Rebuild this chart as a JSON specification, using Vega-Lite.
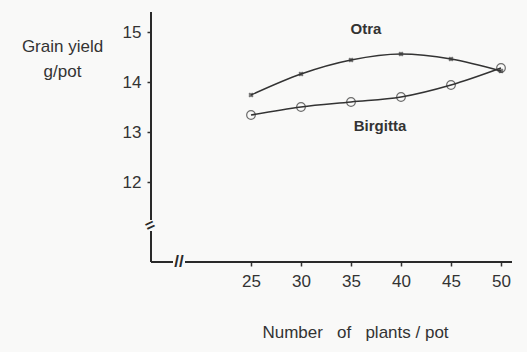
{
  "$schema": "https://vega.github.io/schema/vega-lite/v6.json",
  "autosize": "none",
  "width": 360,
  "height": 250,
  "padding": {"left": 151, "top": 12, "right": 16, "bottom": 90},
  "background": "#f9f9f8",
  "config": {
    "view": {"stroke": null},
    "font": "Liberation Sans",
    "axis": {"grid": false, "domain": false, "labelColor": "#333", "tickColor": "#333", "titleColor": "#333", "labelFont": "Liberation Sans", "titleFont": "Liberation Sans", "titleFontWeight": "normal"}
  },
  "datasets": {
    "series": [
      {"variety": "Otra", "plants": 25, "yield": 13.74},
      {"variety": "Otra", "plants": 30, "yield": 14.16},
      {"variety": "Otra", "plants": 35, "yield": 14.44},
      {"variety": "Otra", "plants": 40, "yield": 14.56},
      {"variety": "Otra", "plants": 45, "yield": 14.46},
      {"variety": "Otra", "plants": 50, "yield": 14.22},
      {"variety": "Birgitta", "plants": 25, "yield": 13.34},
      {"variety": "Birgitta", "plants": 30, "yield": 13.5},
      {"variety": "Birgitta", "plants": 35, "yield": 13.6},
      {"variety": "Birgitta", "plants": 40, "yield": 13.7},
      {"variety": "Birgitta", "plants": 45, "yield": 13.94},
      {"variety": "Birgitta", "plants": 50, "yield": 14.28}
    ],
    "axes": [
      {"x": 15, "x2": 17.2, "y": 10.4, "y2": 10.4},
      {"x": 18.4, "x2": 51.1, "y": 10.4, "y2": 10.4},
      {"x": 15, "x2": 15, "y": 10.4, "y2": 11.02},
      {"x": 15, "x2": 15, "y": 11.24, "y2": 15.4}
    ],
    "labels": [
      {"label": "Otra", "x": 36.5, "y": 15.06},
      {"label": "Birgitta", "x": 37.9, "y": 13.12}
    ],
    "xbreak": [{"x": 17.8, "y": 10.4, "t": "//"}],
    "ybreak": [{"x": 14.9, "y": 11.13, "t": "="}]
  },
  "layer": [
    {
      "data": {"name": "axes"},
      "mark": {"type": "rule", "color": "#2a2a2a", "strokeWidth": 2},
      "encoding": {
        "x": {"field": "x", "type": "quantitative", "scale": {"domain": [15, 51], "nice": false, "zero": false},
          "axis": {"values": [25, 30, 35, 40, 45, 50], "labelFontSize": 17, "labelPadding": 7, "tickSize": 4, "tickWidth": 1.5,
            "title": "Number\u00a0\u00a0\u00a0of\u00a0\u00a0\u00a0plants / pot", "titleFontSize": 17, "titleX": 204, "titleY": 62, "titleAnchor": "middle", "titleBaseline": "top"}},
        "x2": {"field": "x2"},
        "y": {"field": "y", "type": "quantitative", "scale": {"domain": [10.4, 15.4], "nice": false, "zero": false},
          "axis": {"values": [12, 13, 14, 15], "labelFontSize": 17, "labelPadding": 6, "tickSize": 4, "tickWidth": 1.5,
            "title": ["Grain yield", "g/pot"], "titleFontSize": 17, "titleAngle": 0, "titleX": -89, "titleY": 26, "titleAlign": "center", "titleBaseline": "top", "titleLineHeight": 25}},
        "y2": {"field": "y2"}
      }
    },
    {
      "data": {"name": "xbreak"},
      "mark": {"type": "text", "fontSize": 17, "color": "#2a2a2a", "fontWeight": "bold"},
      "encoding": {"x": {"field": "x", "type": "quantitative"}, "y": {"field": "y", "type": "quantitative"}, "text": {"field": "t"}}
    },
    {
      "data": {"name": "ybreak"},
      "mark": {"type": "text", "fontSize": 16, "color": "#2a2a2a", "angle": -25, "fontWeight": "bold"},
      "encoding": {"x": {"field": "x", "type": "quantitative"}, "y": {"field": "y", "type": "quantitative"}, "text": {"field": "t"}}
    },
    {
      "data": {"name": "series"},
      "mark": {"type": "line", "interpolate": "monotone", "color": "#333", "strokeWidth": 1.5},
      "encoding": {
        "x": {"field": "plants", "type": "quantitative"},
        "y": {"field": "yield", "type": "quantitative"},
        "detail": {"field": "variety"}
      }
    },
    {
      "data": {"name": "series"},
      "transform": [{"filter": "datum.variety == 'Birgitta'"}],
      "mark": {"type": "point", "shape": "circle", "filled": false, "size": 75, "color": "#333", "strokeWidth": 1.2},
      "encoding": {
        "x": {"field": "plants", "type": "quantitative"},
        "y": {"field": "yield", "type": "quantitative"}
      }
    },
    {
      "data": {"name": "series"},
      "transform": [{"filter": "datum.variety == 'Otra'"}],
      "mark": {"type": "point", "shape": "cross", "filled": true, "size": 28, "color": "#333", "angle": 45},
      "encoding": {
        "x": {"field": "plants", "type": "quantitative"},
        "y": {"field": "yield", "type": "quantitative"}
      }
    },
    {
      "data": {"name": "labels"},
      "mark": {"type": "text", "fontSize": 15, "fontWeight": "bold", "color": "#333", "align": "center", "baseline": "middle"},
      "encoding": {
        "x": {"field": "x", "type": "quantitative"},
        "y": {"field": "y", "type": "quantitative"},
        "text": {"field": "label"}
      }
    }
  ]
}
